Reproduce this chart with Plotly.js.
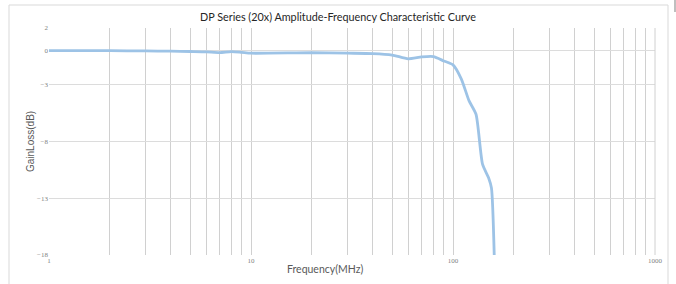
<!DOCTYPE html>
<html>
<head>
<meta charset="utf-8">
<script src="https://cdn.plot.ly/plotly-3.0.1.min.js"></script>
<style>
html,body{margin:0;padding:0;background:#fff;}
#chart{width:676px;height:284px;}
</style>
</head>
<body>
<div id="chart"></div>
<script>
var freqMHz = [1, 2, 3, 4, 5, 6, 7, 8, 9, 10, 20, 30, 40, 50, 60, 70, 80, 90, 100, 110, 120, 130, 140, 150, 155, 160];
var gainLossDb = [0, 0, -0.02, -0.04, -0.07, -0.1, -0.17, -0.08, -0.15, -0.22, -0.18, -0.22, -0.25, -0.38, -0.72, -0.55, -0.52, -0.9, -1.25, -2.5, -4.4, -5.6, -10.0, -11.2, -12.1, -18];
var yTickVals = [2, 0, -3, -8, -13, -18];
var xTickVals = [1, 10, 100, 1000];
var xTickText = ['1', '10', '100', '1000'];
var titleText = 'DP Series (20x) Amplitude-Frequency Characteristic Curve';
var xTitle = 'Frequency(MHz)';
var yTitle = 'GainLoss(dB)';

var trace = {
  x: freqMHz, y: gainLossDb, type: 'scatter', mode: 'lines',
  line: {color: '#9dc3e6', width: 2.8, shape: 'spline', smoothing: 0.6},
  hoverinfo: 'none'
};

var layout = {
  width: 676, height: 284,
  margin: {l: 49, r: 21, t: 28, b: 29},
  paper_bgcolor: '#ffffff', plot_bgcolor: '#ffffff',
  showlegend: false,
  title: {text: titleText, x: (338 - 0) / 676, xanchor: 'center', y: 0.94, yanchor: 'middle',
          font: {family: 'Lato, "Open Sans", sans-serif', size: 10.8, color: '#262626'}},
  xaxis: {
    type: 'log', range: [0, 3],
    tickvals: xTickVals, ticktext: xTickText, ticks: '',
    showgrid: true, gridcolor: '#d0d0d0', gridwidth: 1,
    minor: {showgrid: true, gridcolor: '#d0d0d0', gridwidth: 1, dtick: 'D1', ticks: ''},
    showline: false, zeroline: false,
    tickfont: {family: '"Liberation Serif", serif', size: 7, color: '#7f7f7f'}
  },
  yaxis: {
    range: [-18, 2], tickvals: yTickVals, ticks: '',
    showgrid: true, gridcolor: '#dcdcdc', gridwidth: 1,
    zeroline: false, showline: false,
    tickfont: {family: '"Liberation Serif", serif', size: 7, color: '#7f7f7f'}
  },
  annotations: [
    {text: xTitle, xref: 'paper', yref: 'paper', x: (325 - 49) / 606, y: (255 - 269) / 227,
     xanchor: 'center', yanchor: 'middle', showarrow: false,
     font: {family: 'Lato, "Open Sans", sans-serif', size: 10.5, color: '#595959'}},
    {text: yTitle, xref: 'paper', yref: 'paper', x: (30 - 49) / 606, y: (255 - 142) / 227,
     xanchor: 'center', yanchor: 'middle', showarrow: false, textangle: -90,
     font: {family: '"Liberation Sans", Arial, sans-serif', size: 10, color: '#595959'}}
  ],
  shapes: [
    {type: 'rect', xref: 'paper', yref: 'paper', x0: -40/606, x1: 619/606, y0: -0.2, y1: 250/227,
     line: {color: '#d9d9d9', width: 1}, fillcolor: 'rgba(0,0,0,0)', layer: 'below'},
    {type: 'line', xref: 'paper', yref: 'paper', x0: 1, x1: 1, y0: 0, y1: 1,
     line: {color: '#d0d0d0', width: 1}},
    {type: 'line', xref: 'paper', yref: 'paper', x0: 626/606, x1: 626/606, y0: 243/227, y1: 1.2,
     line: {color: '#bfbfbf', width: 2}}
  ]
};

Plotly.newPlot('chart', [trace], layout, {displayModeBar: false, staticPlot: true});
</script>
</body>
</html>
